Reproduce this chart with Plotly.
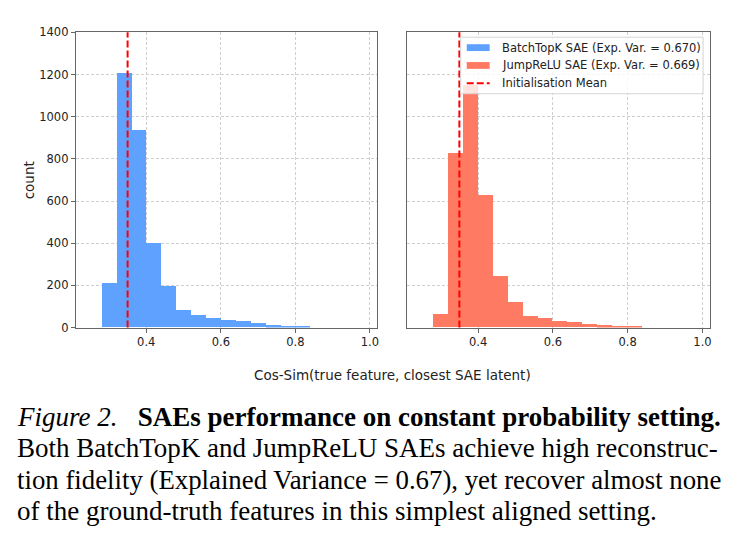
import plotly.graph_objects as go

W, H = 740, 544

# ---- data ----
bin_left_edges = [0.28, 0.32, 0.36, 0.40, 0.44, 0.48, 0.52, 0.56, 0.60, 0.64, 0.68, 0.72, 0.76, 0.80]
bin_width = 0.04
batchtopk_counts = [208, 1205, 935, 400, 196, 83, 56, 42, 34, 28, 18, 9, 5, 3]
jumprelu_counts = [63, 828, 1148, 625, 244, 119, 54, 45, 31, 23, 14, 9, 6, 3]
init_mean = 0.35
x_ticks = [0.4, 0.6, 0.8, 1.0]
x_tick_labels = ["0.4", "0.6", "0.8", "1.0"]
y_ticks = [0, 200, 400, 600, 800, 1000, 1200, 1400]
legend_labels = ["BatchTopK SAE (Exp. Var. = 0.670)", "JumpReLU SAE (Exp. Var. = 0.669)", "Initialisation Mean"]
x_title = "Cos-Sim(true feature, closest SAE latent)"
y_title = "count"
caption_lines = [
    "<i>Figure 2.</i>&nbsp;&nbsp; <b>SAEs performance on constant probability setting.</b>",
    "Both BatchTopK and JumpReLU SAEs achieve high reconstruc-",
    "tion fidelity (Explained Variance = 0.67), yet recover almost none",
    "of the ground-truth features in this simplest aligned setting.",
]

BLUE = "#5EA1FF"
RED = "#FF7A62"
SPINE = "#666666"
GRID = "#cfcfcf"
TICKFONT = dict(family="DejaVu Sans", size=11.5, color="#222")


def px(x):
    return x / W


def py(y):
    return 1 - y / H


fig = go.Figure()
fig.add_trace(go.Bar(x=bin_left_edges, y=batchtopk_counts, width=bin_width, offset=0,
                     marker=dict(color=BLUE, line=dict(width=0)), xaxis="x", yaxis="y",
                     showlegend=False))
fig.add_trace(go.Bar(x=bin_left_edges, y=jumprelu_counts, width=bin_width, offset=0,
                     marker=dict(color=RED, line=dict(width=0)), xaxis="x2", yaxis="y2",
                     showlegend=False))

xr = [0.211, 1.019]
yr = [0, 1400]
dom_y = [py(329), py(26)]
common_x = dict(range=xr, tickvals=x_ticks, ticktext=x_tick_labels, showgrid=True,
                gridcolor=GRID, griddash="3px,2px", gridwidth=0.8, zeroline=False,
                showline=True, linecolor=SPINE, linewidth=1, mirror=True,
                ticks="outside", ticklen=4, tickcolor=SPINE, tickfont=TICKFONT)
common_y = dict(range=yr, tickvals=y_ticks, showgrid=True, gridcolor=GRID, griddash="3px,2px",
                gridwidth=0.8, zeroline=False, showline=True, linecolor=SPINE,
                linewidth=1, mirror=True, tickfont=TICKFONT, domain=dom_y)

fig.update_layout(
    width=W, height=H, margin=dict(l=0, r=0, t=0, b=0),
    paper_bgcolor="white", plot_bgcolor="white", barmode="overlay", bargap=0,
    xaxis=dict(domain=[px(76), px(378)], anchor="y", **common_x),
    yaxis=dict(anchor="x", ticks="outside", ticklen=4, tickcolor=SPINE, **common_y),
    xaxis2=dict(domain=[px(408.5), px(711.5)], anchor="y2", **common_x),
    yaxis2=dict(anchor="x2", showticklabels=False, ticks="", **common_y),
    showlegend=False,
)

# vertical init-mean lines
for xref, yref in [("x", "y domain"), ("x2", "y2 domain")]:
    fig.add_shape(type="line", xref=xref, yref=yref, x0=init_mean, x1=init_mean, y0=0, y1=1,
                  line=dict(color="#FF0000", width=2, dash="7px,3px"), layer="above")

# custom legend
fig.add_shape(type="rect", xref="paper", yref="paper", x0=px(462), x1=px(705), y0=py(89), y1=py(31),
              fillcolor="rgba(255,255,255,0.8)", line=dict(color="#d5d5d5", width=1), layer="above")
rows = [41.7, 60.0, 78.3]
fig.add_shape(type="rect", xref="paper", yref="paper", x0=px(468), x1=px(491),
              y0=py(rows[0] + 3.5), y1=py(rows[0] - 3.5), fillcolor=BLUE, line=dict(width=0), layer="above")
fig.add_shape(type="rect", xref="paper", yref="paper", x0=px(468), x1=px(491),
              y0=py(rows[1] + 3.5), y1=py(rows[1] - 3.5), fillcolor=RED, line=dict(width=0), layer="above")
fig.add_shape(type="line", xref="paper", yref="paper", x0=px(468), x1=px(491),
              y0=py(rows[2]), y1=py(rows[2]), line=dict(color="#FF0000", width=2, dash="7px,3px"),
              layer="above")
for lab, r in zip(legend_labels, rows):
    fig.add_annotation(text=lab, xref="paper", yref="paper", x=px(501), y=py(r),
                       xanchor="left", yanchor="middle", showarrow=False,
                       font=dict(family="DejaVu Sans", size=11.5, color="#222"))

# axis titles
fig.add_annotation(text=x_title, xref="paper", yref="paper", x=px(393.5), y=py(378),
                   xanchor="center", yanchor="middle", showarrow=False,
                   font=dict(family="DejaVu Sans", size=13.5, color="#222"))
fig.add_annotation(text=y_title, xref="paper", yref="paper", x=px(30), y=py(178),
                   xanchor="center", yanchor="middle", textangle=-90, showarrow=False,
                   font=dict(family="DejaVu Sans", size=13.5, color="#222"))

# caption
cap_y = [421, 453, 485, 517]
cap_size = [27, 27, 26.8, 27]
for line, yy, fs in zip(caption_lines, cap_y, cap_size):
    fig.add_annotation(text=line, xref="paper", yref="paper", x=px(15), y=py(yy),
                       xanchor="left", yanchor="middle", showarrow=False,
                       font=dict(family="Liberation Serif", size=fs, color="black"))

fig.write_html("out.html")
